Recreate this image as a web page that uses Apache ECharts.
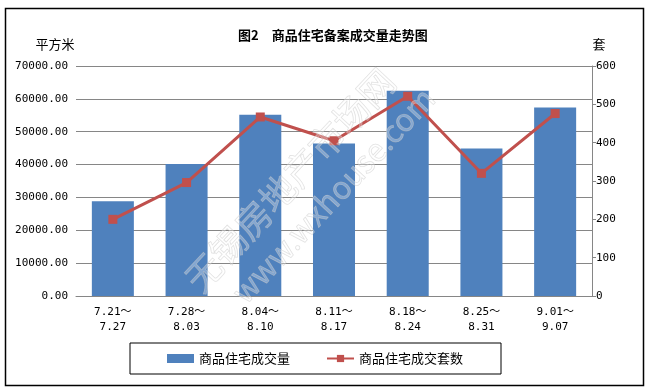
<!DOCTYPE html>
<html>
<head>
<meta charset="utf-8">
<script src="https://cdn.jsdelivr.net/npm/echarts@6/dist/echarts.min.js"></script>
<style>html,body{margin:0;padding:0;background:#fff}#c{width:651px;height:388px}</style>
</head>
<body>
<div id="c"></div>
<script>
var categories = ['7.21～\n7.27', '7.28～\n8.03', '8.04～\n8.10', '8.11～\n8.17', '8.18～\n8.24', '8.25～\n8.31', '9.01～\n9.07'];
var areaValues = [28800, 40200, 55200, 46400, 62500, 44900, 57400];
var unitValues = [200, 296, 467, 405, 521, 320, 476];
var seriesNames = ['商品住宅成交量', '商品住宅成交套数'];
var titleText = '图2\u3000商品住宅备案成交量走势图';
var leftUnit = '平方米';
var rightUnit = '套';

var monoFont = "'DejaVu Sans Mono', 'Noto Sans CJK SC', monospace";
var cjkFont = "'Noto Sans CJK SC', sans-serif";
var chart = echarts.init(document.getElementById('c'), null, {renderer: 'canvas'});
var ang = 47 * Math.PI / 180;
chart.setOption({
  animation: false,
  backgroundColor: '#fff',
  title: {
    text: titleText, left: 233, top: 24,
    textStyle: {fontFamily: cjkFont, fontSize: 13, fontWeight: 'bold', color: '#000'}
  },
  legend: {
    left: 130, top: 343,
    padding: [9, 38, 9, 37],
    borderColor: '#000', borderWidth: 1,
    itemWidth: 27, itemHeight: 9, itemGap: 36,
    textStyle: {fontFamily: cjkFont, fontSize: 13, color: '#000'},
    data: [{name: seriesNames[0], icon: 'rect'}, {name: seriesNames[1]}]
  },
  grid: {left: 76, right: 59, top: 66, bottom: 92, containLabel: false},
  xAxis: {
    type: 'category', data: categories,
    axisLine: {lineStyle: {color: '#868686'}},
    axisTick: {show: false},
    axisLabel: {margin: 9, fontFamily: monoFont, fontSize: 11, color: '#000', lineHeight: 15, interval: 0}
  },
  yAxis: [{
    type: 'value', min: 0, max: 70000, interval: 10000,
    axisLine: {show: false}, axisTick: {show: false},
    axisLabel: {margin: 8, fontFamily: monoFont, fontSize: 11, color: '#000',
      formatter: function (v) { return v.toFixed(2); }},
    splitLine: {lineStyle: {color: '#868686', width: 1}}
  }, {
    type: 'value', min: 0, max: 600, interval: 100, position: 'right',
    axisLine: {show: true, lineStyle: {color: '#868686'}},
    axisTick: {show: true, length: 4, lineStyle: {color: '#868686'}},
    axisLabel: {margin: 4, fontFamily: monoFont, fontSize: 11, color: '#000'},
    splitLine: {show: false}
  }],
  series: [{
    name: seriesNames[0], type: 'bar', data: areaValues, yAxisIndex: 0,
    barCategoryGap: '43%',
    itemStyle: {color: '#4F81BD'}
  }, {
    name: seriesNames[1], type: 'line', data: unitValues, yAxisIndex: 1,
    symbol: 'rect', symbolSize: 9,
    lineStyle: {color: '#C0504D', width: 3},
    itemStyle: {color: '#C0504D'}
  }],
  graphic: [
    {type: 'rect', left: 3, top: 6, shape: {width: 638, height: 377}, silent: true,
      style: {fill: 'none', stroke: '#000', lineWidth: 1.5}, z: 100},
    {type: 'text', x: 55, y: 44, silent: true,
      style: {text: leftUnit, font: '13px ' + cjkFont, fill: '#000', textAlign: 'center', textVerticalAlign: 'middle'}},
    {type: 'text', x: 599, y: 44, silent: true,
      style: {text: rightUnit, font: '13px ' + cjkFont, fill: '#000', textAlign: 'center', textVerticalAlign: 'middle'}},
    {type: 'text', x: 290, y: 180, rotation: ang, silent: true, z: 50,
      style: {text: '无锡房地产市场网', font: '36px ' + cjkFont, fill: 'rgba(255,255,255,0.3)',
        stroke: 'rgba(190,190,190,0.5)', lineWidth: 0.8, textAlign: 'center', textVerticalAlign: 'middle'}},
    {type: 'text', x: 333, y: 195, rotation: ang, silent: true, z: 50,
      style: {text: 'www.wxhouse.com', font: '31px ' + cjkFont, fill: 'rgba(255,255,255,0.3)',
        stroke: 'rgba(190,190,190,0.5)', lineWidth: 0.8, textAlign: 'center', textVerticalAlign: 'middle'}}
  ]
});
</script>
</body>
</html>
